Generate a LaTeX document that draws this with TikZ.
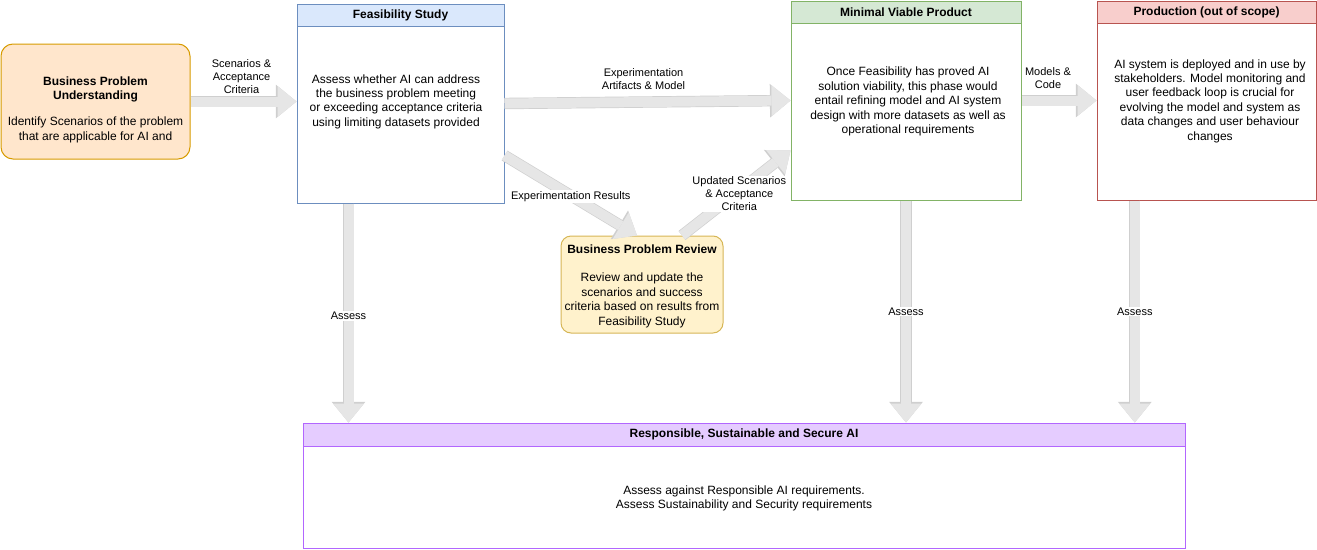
\documentclass[tikz,border=0pt]{standalone}
\usepackage{fontspec}
\setmainfont{Liberation Sans}
\usetikzlibrary{arrows.meta,calc}
\definecolor{bpufill}{HTML}{FFE6CC}\definecolor{bpuline}{HTML}{D79B00}
\definecolor{fsfill}{HTML}{DAE8FC}\definecolor{fsline}{HTML}{6C8EBF}
\definecolor{mvpfill}{HTML}{D5E8D4}\definecolor{mvpline}{HTML}{82B366}
\definecolor{prodfill}{HTML}{F8CECC}\definecolor{prodline}{HTML}{B85450}
\definecolor{bprfill}{HTML}{FFF2CC}\definecolor{bprline}{HTML}{D6B656}
\definecolor{rsafill}{HTML}{E5CCFF}\definecolor{rsaline}{HTML}{B266FF}
\definecolor{arrfill}{HTML}{E6E6E6}\definecolor{arrline}{HTML}{CFCFCF}
\tikzset{
        fleche/.style={
            draw=arrfill, line width=10pt,
            -{Triangle[length=19pt,width=31pt,line width=0pt]},
            preaction={draw=arrline, line width=11.4pt,
                -{Triangle[length=20.6pt,width=33.6pt,line width=0pt]}},
        },
    }

\begin{document}
\begin{tikzpicture}[x=1pt,y=-1pt,
          phase/.style = {draw,line width=1pt,rectangle,inner sep=0pt},
          head/.style = {draw,line width=1pt,anchor=north,minimum height=22,inner sep=0pt,font=\fontsize{12}{14.4}\selectfont\bfseries},
          txt/.style = {align=center,inner sep=0pt,font=\fontsize{12}{14.4}\selectfont},
          lbl/.style = {align=center,inner sep=1pt,font=\fontsize{11}{13}\selectfont}
          ]
 \useasboundingbox (0,0) rectangle (1317,549);
          % boxes
          \node[phase,fill=bpufill,draw=bpuline,rounded corners=12pt,minimum width=189,minimum height=115] (@bpu) at (95.5,101.5) {};
          \node[txt] (@bpu text) at (95.5,109.5) {\textbf{Business Problem}\\\textbf{Understanding}\\[11.6pt]Identify Scenarios of the problem\\that are applicable for AI and};
          \node[phase,draw=fsline,minimum width=207,minimum height=199] (@fs) at (400.5,103.5) {};
          \node[head,fill=fsfill,draw=fsline,minimum width=207] (@fs head) at (@fs.north) {\raisebox{-1pt}{Feasibility Study}};
          \node[txt] (@fs text) at (396,101.5) {Assess whether AI can address\\the business problem meeting\\or exceeding acceptance criteria\\using limiting datasets provided};
          \node[phase,draw=mvpline,minimum width=230,minimum height=199] (@mvp) at (906,100.5) {};
          \node[head,fill=mvpfill,draw=mvpline,minimum width=230] (@mvp head) at (@mvp.north) {\raisebox{-1pt}{Minimal Viable Product}};
          \node[txt] (@mvp text) at (908,101.5) {Once Feasibility has proved AI\\solution viability, this phase would\\entail refining model and AI system\\design with more datasets as well as\\operational requirements};
          \node[phase,draw=prodline,minimum width=219,minimum height=199] (@prod) at (1206.5,100.5) {};
          \node[head,fill=prodfill,draw=prodline,minimum width=219] (@prod head) at (@prod.north) {\raisebox{-1pt}{Production (out of scope)}};
          \node[txt] (@prod text) at (1210,101) {AI system is deployed and in use by\\stakeholders. Model monitoring and\\user feedback loop is crucial for\\evolving the model and system as\\data changes and user behaviour\\changes};
          \node[phase,fill=bprfill,draw=bprline,rounded corners=10pt,minimum width=162,minimum height=97] (@bpr) at (642,284.5) {};
          \node[txt] (@bpr text) at (642,286) {\textbf{Business Problem Review}\\[14.4pt]Review and update the\\scenarios and success\\criteria based on results from\\Feasibility Study};
          \node[phase,draw=rsaline,minimum width=882,minimum height=125] (@rsa) at (744,485.5) {};
          \node[head,fill=rsafill,draw=rsaline,minimum width=882,minimum height=23] (@rsa head) at (@rsa.north) {\raisebox{-1pt}{Responsible, Sustainable and Secure AI}};
          \node[txt] (@rsa text) at (744,498.5) {Assess against Responsible AI requirements.\\Assess Sustainability and Security requirements};
          % flows
          \draw[fleche] (@bpu.east) -- (@fs.west |- @bpu.east) node[lbl,midway,above=2pt,xshift=-2pt] {Scenarios \&\\Acceptance\\Criteria};
          \draw[fleche] (@fs.east) -- (@mvp.west) node[lbl,midway,above=6pt,xshift=-4pt] {Experimentation\\Artifacts \& Model};
          \draw[fleche] ([yshift=-52pt]@fs.east) -- ([xshift=-5pt]@bpr.north) node[lbl,midway,fill=white,yshift=-1pt] {Experimentation Results};
          \draw[fleche] ([xshift=40pt]@bpr.north) -- ([yshift=-50pt]@mvp.west) node[lbl,midway,fill=white,xshift=3pt,yshift=-1pt] {Updated Scenarios\\\& Acceptance\\Criteria};
          \draw[fleche] (@mvp.east) -- (@prod.west) node[lbl,midway,above=6pt,xshift=-11pt] {Models \&\\Code};
          \coordinate (@fs out) at ($(@fs.south west)!.25!(@fs.south east)$);
          \coordinate (@prod out) at ($(@prod.south west)!.174!(@prod.south east)$);
          \draw[fleche] (@fs out) -- (@fs out |- @rsa.north) node[lbl,midway,fill=white,yshift=-3pt] {Assess};
          \draw[fleche] (@mvp.south) -- (@mvp.south |- @rsa.north) node[lbl,midway,fill=white] {Assess};
          \draw[fleche] (@prod out) -- (@prod out |- @rsa.north) node[lbl,midway,fill=white] {Assess};
        \end{tikzpicture}
\end{document}
